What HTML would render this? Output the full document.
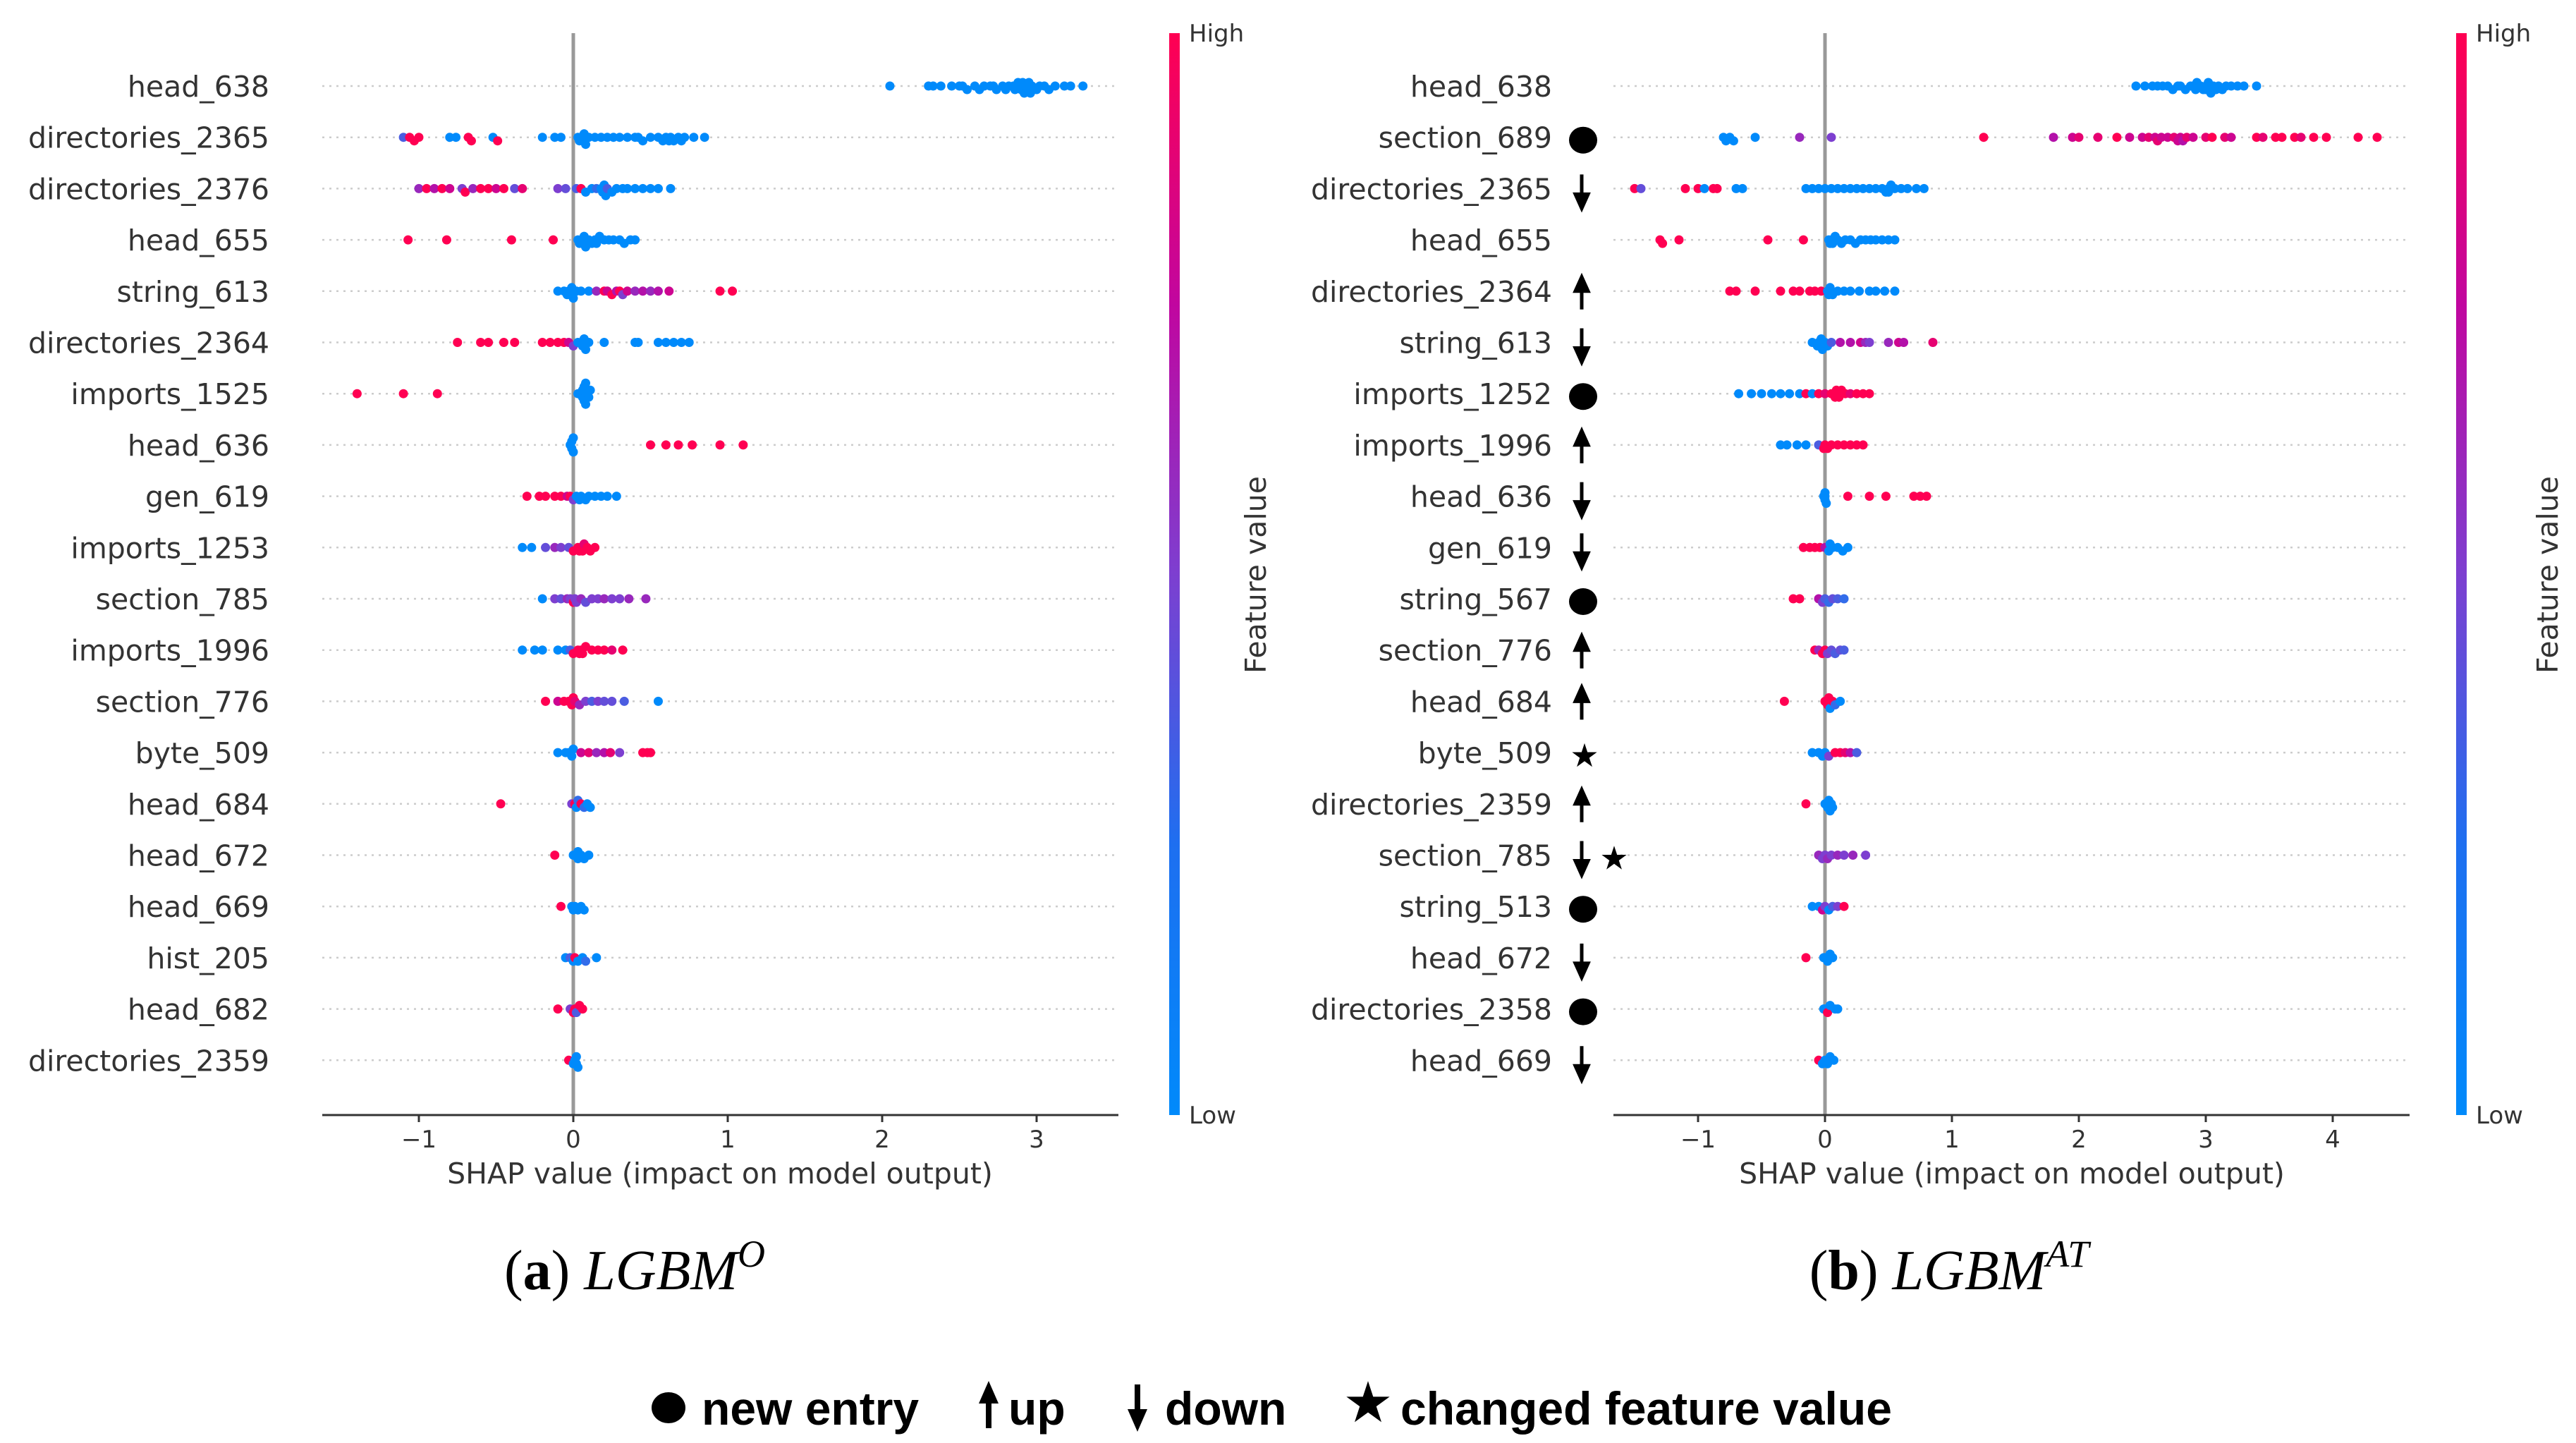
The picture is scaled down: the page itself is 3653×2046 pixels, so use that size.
<!DOCTYPE html>
<html><head><meta charset="utf-8">
<style>
html,body{margin:0;padding:0;background:#fff;}
svg{display:block;}
</style></head>
<body>
<svg id="fig" width="3653" height="2046" viewBox="0 0 3653 2046" xmlns="http://www.w3.org/2000/svg">
<defs>
<linearGradient id="cb" x1="0" y1="1" x2="0" y2="0">
<stop offset="0" stop-color="#008afb"/>
<stop offset="0.25" stop-color="#1e6ff0"/>
<stop offset="0.5" stop-color="#7d3fd0"/>
<stop offset="0.75" stop-color="#c1069f"/>
<stop offset="1" stop-color="#ff0052"/>
</linearGradient>
</defs>
<g id="panelA"></g>
<g id="panelB"></g>
<g id="captions">
<text x="900" y="1828" text-anchor="middle" font-family="Liberation Serif, serif" font-size="80">(<tspan font-weight="bold">a</tspan>)  <tspan font-style="italic">LGBM</tspan><tspan font-style="italic" font-size="54" dy="-32">O</tspan></text>
<text x="2764" y="1828" text-anchor="middle" font-family="Liberation Serif, serif" font-size="80">(<tspan font-weight="bold">b</tspan>)  <tspan font-style="italic">LGBM</tspan><tspan font-style="italic" font-size="54" dy="-32">AT</tspan></text>
</g>
<g id="legend" font-family="Liberation Sans, sans-serif" font-weight="bold" font-size="66">
<ellipse cx="948" cy="1996" rx="24" ry="22" fill="#000"/>
<text x="995" y="2020">new entry</text>
<g><line x1="1402" y1="2025" x2="1402" y2="1982" stroke="#000" stroke-width="8"/><polygon points="1388,1990 1402,1958 1416,1990" fill="#000"/></g>
<text x="1430" y="2020">up</text>
<g><line x1="1613" y1="1963" x2="1613" y2="2005" stroke="#000" stroke-width="8"/><polygon points="1599,1998 1613,2030 1627,1998" fill="#000"/></g>
<text x="1652" y="2020">down</text>
<text x="1940" y="2016" text-anchor="middle" font-size="80" font-weight="normal" font-family="DejaVu Sans, sans-serif">★</text>
<text x="1986" y="2020">changed feature value</text>
</g>
</svg>
<script>
// ---------- data: panel A (LGBM^O) ----------
const featuresA = ["head_638","directories_2365","directories_2376","head_655","string_613","directories_2364","imports_1525","head_636","gen_619","imports_1253","section_785","imports_1996","section_776","byte_509","head_684","head_672","head_669","hist_205","head_682","directories_2359"];
const ticksA = [-1,0,1,2,3];
const pointsA = [
[[2.05,0],[2.3,0],[2.33,0],[2.38,0],[2.45,0],[2.5,0],[2.52,0],[2.55,0],[2.6,0],[2.63,0],[2.66,0],[2.7,0],[2.72,0],[2.74,0],[2.78,0],[2.8,0],[2.82,0],[2.85,0],[2.86,0],[2.88,0],[2.9,0],[2.91,0],[2.92,0],[2.93,0],[2.95,0],[2.97,0],[3.0,0],[3.02,0],[3.05,0],[3.08,0],[3.12,0],[3.18,0],[3.22,0],[3.3,0],[2.9,0],[2.94,0],[2.96,0]],
[[-1.1,0.3],[-1.06,1],[-1.03,1],[-1.0,1],[-0.8,0],[-0.76,0],[-0.68,1],[-0.66,1],[-0.52,0],[-0.49,1],[-0.2,0],[-0.12,0],[-0.08,0],[0.03,0],[0.05,0],[0.06,0],[0.08,0],[0.1,0],[0.14,0],[0.18,0],[0.22,0],[0.26,0],[0.3,0],[0.35,0],[0.4,0],[0.42,0],[0.45,0],[0.5,0],[0.55,0],[0.58,0],[0.6,0],[0.62,0],[0.63,0],[0.65,0],[0.68,0],[0.7,0],[0.72,0],[0.78,0],[0.85,0],[0.04,0],[0.07,0]],
[[-1.0,0.6],[-0.95,1],[-0.9,0.7],[-0.85,1],[-0.8,0.8],[-0.72,0.5],[-0.7,1],[-0.65,0.6],[-0.6,1],[-0.55,1],[-0.5,0.8],[-0.45,1],[-0.38,0.4],[-0.33,0.9],[-0.1,0.5],[-0.05,0.4],[0.02,0.3],[0.05,1],[0.08,0],[0.12,0],[0.15,0.2],[0.18,0],[0.2,0],[0.22,0.3],[0.25,0],[0.28,0],[0.32,0],[0.35,0],[0.4,0],[0.45,0],[0.5,0],[0.55,0],[0.63,0],[0.19,0],[0.21,0]],
[[-1.07,1],[-0.82,1],[-0.4,1],[-0.13,1],[0.03,0],[0.05,0],[0.06,0],[0.08,0],[0.1,0],[0.12,0],[0.14,0],[0.17,0],[0.2,0],[0.23,0],[0.26,0],[0.3,0],[0.33,0],[0.37,0],[0.4,0],[0.04,0],[0.07,0],[0.15,0]],
[[-0.1,0],[-0.06,0],[-0.04,0],[-0.02,0],[0,0],[0.02,0],[0.05,0],[0.1,0],[0.15,0.6],[0.2,1],[0.22,0.8],[0.25,1],[0.28,0.7],[0.3,1],[0.32,0.5],[0.35,0.8],[0.4,0.6],[0.45,0.7],[0.5,0.6],[0.55,0.7],[0.62,0.8],[0.95,1],[1.03,1],[-0.03,0],[-0.01,0]],
[[-0.75,1],[-0.6,1],[-0.55,1],[-0.45,1],[-0.38,1],[-0.2,1],[-0.15,1],[-0.1,1],[-0.06,1],[-0.03,0.8],[0.0,0.5],[0.03,0],[0.06,0],[0.08,0],[0.1,0],[0.2,0],[0.4,0],[0.42,0],[0.55,0],[0.6,0],[0.65,0],[0.7,0],[0.75,0],[0.05,0],[0.07,0]],
[[-1.4,1],[-1.1,1],[-0.88,1],[0.03,0],[0.05,0],[0.06,0],[0.07,0],[0.08,0],[0.09,0],[0.1,0],[0.11,0],[0.06,0],[0.08,0],[0.07,0]],
[[-0.02,0],[-0.01,0],[0,0],[0,0],[-0.01,0],[0.5,1],[0.6,1],[0.68,1],[0.77,1],[0.95,1],[1.1,1]],
[[-0.3,1],[-0.22,1],[-0.18,1],[-0.12,1],[-0.08,1],[-0.04,0.8],[-0.02,1],[0.0,0.5],[0.02,0],[0.05,0],[0.08,0],[0.1,0],[0.14,0],[0.18,0],[0.22,0],[0.28,0],[0.04,0]],
[[-0.33,0],[-0.27,0],[-0.18,0.4],[-0.12,0.6],[-0.08,0.5],[-0.03,0.4],[0.0,1],[0.03,1],[0.05,1],[0.07,0.9],[0.09,1],[0.11,1],[0.14,1],[0.04,1],[0.06,1]],
[[-0.2,0],[-0.12,0.5],[-0.08,0.4],[-0.04,0.6],[-0.02,0.5],[0.0,1],[0.02,0.5],[0.05,0.6],[0.08,0.4],[0.12,0.5],[0.16,0.5],[0.2,0.6],[0.25,0.5],[0.3,0.5],[0.36,0.6],[0.47,0.6],[0.01,0.5]],
[[-0.33,0],[-0.25,0],[-0.2,0],[-0.1,0],[-0.05,0],[-0.02,0.3],[0,1],[0.03,1],[0.05,1],[0.08,1],[0.12,1],[0.16,1],[0.2,1],[0.25,0.9],[0.32,1],[0.04,1],[0.06,1]],
[[-0.18,1],[-0.1,0.8],[-0.06,1],[-0.03,1],[-0.01,1],[0.01,0.9],[0.04,0.6],[0.08,0.5],[0.12,0.3],[0.16,0.5],[0.2,0.4],[0.25,0.4],[0.33,0.3],[0.55,0],[0.0,1]],
[[-0.1,0],[-0.05,0],[-0.03,0],[-0.01,0],[0.0,0],[0.05,0.8],[0.1,0.9],[0.15,0.6],[0.2,0.7],[0.24,0.9],[0.3,0.5],[0.45,1],[0.48,1],[0.5,1]],
[[-0.47,1],[-0.01,0.5],[0.01,1],[0.03,0.2],[0.05,1],[0.07,0.2],[0.09,0],[0.11,0],[0.02,0]],
[[-0.12,1],[0.0,0],[0.02,0],[0.03,0],[0.05,0],[0.07,0],[0.1,0],[0.03,0]],
[[-0.08,1],[-0.01,0],[0.0,0],[0.01,0],[0.03,0],[0.05,0],[0.07,0]],
[[-0.05,0],[-0.02,0.3],[0,0],[0.01,1],[0.03,0],[0.06,0],[0.08,0.2],[0.15,0]],
[[-0.1,1],[-0.02,0.5],[0,1],[0.01,1],[0.02,0.3],[0.04,1],[0.06,1]],
[[-0.03,1],[0.0,0],[0.01,0],[0.02,0],[0.03,0],[0.02,0]]
];
// ---------- data: panel B (LGBM^AT) ----------
const featuresB = ["head_638","section_689","directories_2365","head_655","directories_2364","string_613","imports_1252","imports_1996","head_636","gen_619","string_567","section_776","head_684","byte_509","directories_2359","section_785","string_513","head_672","directories_2358","head_669"];
const marksB = ["","dot","down","","up","down","dot","up","down","down","dot","up","up","star","up","down star","dot","down","dot","down"];
const ticksB = [-1,0,1,2,3,4];
const pointsB = [
[[2.45,0],[2.52,0],[2.58,0],[2.62,0],[2.66,0],[2.7,0],[2.74,0],[2.78,0],[2.8,0],[2.84,0],[2.88,0],[2.9,0],[2.93,0],[2.96,0],[2.98,0],[3.0,0],[3.02,0],[3.04,0],[3.06,0],[3.08,0],[3.1,0],[3.13,0],[3.16,0],[3.2,0],[3.25,0],[3.3,0],[3.4,0],[3.0,0],[2.92,0]],
[[-0.8,0],[-0.78,0],[-0.75,0],[-0.72,0],[-0.55,0],[-0.2,0.6],[0.05,0.5],[1.25,1],[1.8,0.7],[1.95,0.8],[2.0,0.9],[2.15,0.9],[2.3,1],[2.4,0.8],[2.5,0.8],[2.55,0.9],[2.6,0.8],[2.65,0.8],[2.7,0.8],[2.75,0.9],[2.8,0.8],[2.82,0.7],[2.85,0.9],[2.9,0.8],[3.0,0.9],[3.05,1],[3.15,0.9],[3.2,0.8],[3.4,1],[3.45,0.9],[3.55,1],[3.6,1],[3.7,1],[3.75,0.9],[3.85,1],[3.95,1],[4.2,1],[4.35,1],[2.78,0.8],[2.62,0.9]],
[[-1.5,1],[-1.45,0.4],[-1.1,1],[-1.0,1],[-0.95,0],[-0.88,1],[-0.85,1],[-0.7,0],[-0.65,0],[-0.15,0],[-0.1,0],[-0.05,0],[0.0,0],[0.05,0],[0.1,0],[0.15,0],[0.2,0],[0.25,0],[0.3,0],[0.35,0],[0.4,0],[0.45,0],[0.5,0],[0.52,0],[0.55,0],[0.6,0],[0.65,0],[0.72,0],[0.78,0],[0.48,0],[0.5,0]],
[[-1.3,1],[-1.28,1],[-1.15,1],[-0.45,1],[-0.17,1],[0.03,0],[0.05,0],[0.08,0],[0.1,0],[0.13,0],[0.16,0],[0.2,0],[0.24,0],[0.28,0],[0.32,0],[0.36,0],[0.4,0],[0.45,0],[0.5,0],[0.55,0],[0.04,0],[0.06,0]],
[[-0.75,1],[-0.7,1],[-0.55,1],[-0.35,1],[-0.25,1],[-0.2,1],[-0.12,1],[-0.08,1],[-0.03,1],[0.02,0],[0.04,0],[0.06,0],[0.1,0],[0.15,0],[0.2,0],[0.27,0],[0.35,0],[0.4,0],[0.47,0],[0.55,0],[0.05,0],[0.03,0]],
[[-0.1,0],[-0.06,0],[-0.04,0],[-0.02,0],[0,0],[0.02,0],[0.05,0.3],[0.12,0.7],[0.2,0.7],[0.28,0.8],[0.32,0.6],[0.35,0.5],[0.5,0.6],[0.58,0.8],[0.62,0.7],[0.85,0.9],[-0.05,0],[-0.03,0]],
[[-0.68,0],[-0.58,0],[-0.5,0],[-0.42,0],[-0.35,0],[-0.28,0],[-0.2,0],[-0.15,1],[-0.1,0],[-0.05,1],[0.0,0.9],[0.05,1],[0.08,1],[0.1,1],[0.13,1],[0.16,1],[0.2,0.9],[0.25,1],[0.3,1],[0.35,1],[0.09,1],[0.11,1]],
[[-0.35,0],[-0.3,0],[-0.22,0],[-0.15,0],[-0.05,0.3],[-0.01,1],[0.0,1],[0.05,1],[0.1,1],[0.15,1],[0.2,1],[0.25,1],[0.3,1],[0.02,1]],
[[0,0],[0,0],[-0.01,0],[0.01,0],[0,0],[0.18,1],[0.35,1],[0.48,1],[0.7,1],[0.75,1],[0.8,1]],
[[-0.17,1],[-0.12,1],[-0.08,1],[-0.04,1],[0.0,0.7],[0.03,0],[0.06,0],[0.1,0],[0.14,0],[0.18,0],[0.04,0]],
[[-0.25,1],[-0.2,1],[-0.05,0.7],[-0.02,0.5],[0.0,0.3],[0.03,0.2],[0.06,0.4],[0.1,0.3],[0.15,0.2]],
[[-0.08,1],[-0.05,0.6],[-0.02,1],[0,1],[0.02,0.5],[0.05,0.4],[0.08,0.3],[0.12,0.4],[0.15,0.3]],
[[-0.32,1],[0.0,1],[0.02,1],[0.04,0],[0.06,1],[0.08,0.2],[0.12,0],[0.03,1]],
[[-0.1,0],[-0.05,0],[-0.02,0],[0,0],[0.03,0.5],[0.08,1],[0.12,1],[0.16,0.9],[0.2,0.7],[0.25,0.3]],
[[-0.15,1],[0.0,0],[0.02,0],[0.03,0],[0.05,0],[0.06,0],[0.04,0]],
[[-0.05,0.6],[-0.02,0.5],[0,0.5],[0.02,0.6],[0.05,0.5],[0.1,0.6],[0.15,0.5],[0.22,0.6],[0.32,0.5]],
[[-0.1,0],[-0.05,0],[-0.02,0.8],[0.0,0.5],[0.03,0],[0.06,0.3],[0.1,0.5],[0.15,1]],
[[-0.15,1],[-0.01,0],[0.0,0],[0.02,0],[0.04,0],[0.06,0]],
[[-0.01,0],[0.0,0],[0.02,1],[0.04,0],[0.08,0],[0.1,0]],
[[-0.05,1],[-0.02,0],[0,0],[0.02,0],[0.04,0],[0.07,0]]
];

const NS = "http://www.w3.org/2000/svg";
function mk(tag, attrs, parent){
  const e = document.createElementNS(NS, tag);
  for (const k in attrs) e.setAttribute(k, attrs[k]);
  parent.appendChild(e);
  return e;
}
function colorOf(c){
  const stops=[[0,[0,138,251]],[0.5,[125,63,208]],[0.75,[193,6,159]],[1,[255,0,82]]];
  for(let i=1;i<stops.length;i++){
    if(c<=stops[i][0]){
      const a=stops[i-1],b=stops[i],t=(c-a[0])/(b[0]-a[0]);
      return "rgb("+a[1].map((v,j)=>Math.round(v+(b[1][j]-v)*t)).join(",")+")";
    }
  }
  return "rgb(255,0,82)";
}
function drawPanel(g, cfg){
  const X = v => cfg.x0 + v*cfg.unit;
  const Y = i => cfg.yTop + i*cfg.rowH;
  cfg.features.forEach((f,i)=>{
    const gl = mk("line",{x1:cfg.axL,x2:cfg.axR,y1:Y(i),y2:Y(i),stroke:"#cccccc","stroke-width":2.5,"stroke-dasharray":"3,7"},g);
    
    
    const t = mk("text",{x:cfg.labelX,y:Y(i)+15,"text-anchor":"end","font-family":"DejaVu Sans, sans-serif","font-size":41,fill:"#333"},g);
    t.textContent=f;
    
    
  });
  const zl = mk("line",{x1:X(0),x2:X(0),y1:cfg.top,y2:cfg.axY,stroke:"#999","stroke-width":5},g);
  
  
  cfg.points.forEach((row,i)=>{
    const sorted=row.slice().sort((a,b)=>a[0]-b[0]);
    const bins={};
    sorted.forEach(p=>{
      const px=X(p[0]);
      const b=Math.round(px/9);
      const n=bins[b]||0; bins[b]=n+1;
      const k=Math.ceil(n/2)*(n%2?1:-1);
      const off=Math.max(-5,Math.min(5,k))*5;
      const c=mk("circle",{cx:px,cy:Y(i)+off,r:6.5,fill:colorOf(p[1])},g);
      
      
    });
  });
  const ax = mk("line",{x1:cfg.axL,x2:cfg.axR,y1:cfg.axY,y2:cfg.axY,stroke:"#333","stroke-width":3},g);
  
  
  cfg.ticks.forEach(t=>{
    const tk=mk("line",{x1:X(t),x2:X(t),y1:cfg.axY,y2:cfg.axY+10,stroke:"#333","stroke-width":3},g);
    
    
    const tl=mk("text",{x:X(t),y:cfg.axY+46,"text-anchor":"middle","font-family":"DejaVu Sans, sans-serif","font-size":34,fill:"#333"},g);
    tl.textContent = t<0 ? "\u2212"+(-t) : String(t);
    
    
  });
  const xt=mk("text",{x:cfg.xTitleX,y:cfg.axY+97,"text-anchor":"middle","font-family":"DejaVu Sans, sans-serif","font-size":41,fill:"#333"},g);
  xt.textContent="SHAP value (impact on model output)";
  
  
  const cb=mk("rect",{x:cfg.cbX,y:cfg.top,width:15,height:cfg.axY-cfg.top,fill:"url(#cb)"},g);
  
  
  const hi=mk("text",{x:cfg.cbX+28,y:cfg.top+12,"font-family":"DejaVu Sans, sans-serif","font-size":34,fill:"#333"},g);
  hi.textContent="High";
  
  
  const lo=mk("text",{x:cfg.cbX+28,y:cfg.axY+12,"font-family":"DejaVu Sans, sans-serif","font-size":34,fill:"#333"},g);
  lo.textContent="Low";
  
  
  const fv=mk("text",{x:cfg.fvX,y:815,"text-anchor":"middle","font-family":"DejaVu Sans, sans-serif","font-size":41,fill:"#333",transform:"rotate(-90 "+cfg.fvX+" 815)"},g);
  fv.textContent="Feature value";
  
  
  if(cfg.marks){
    cfg.marks.forEach((m,i)=>{
      if(!m) return;
      const parts=m.split(" ");
      parts.forEach((p,j)=>{
        const cx=cfg.markX + j*42, cy=Y(i)+4;
        let e;
        if(p==="dot"){ e=mk("ellipse",{cx:cx+2,cy:cy,rx:20,ry:19,fill:"#000"},g); }
        else if(p==="up"){ e=mk("path",{d:"M"+cx+" "+(cy+22)+" V"+(cy-6)+" M"+(cx-9)+" "+(cy-4)+" L"+cx+" "+(cy-24)+" L"+(cx+9)+" "+(cy-4)+" Z",stroke:"#000","stroke-width":5,fill:"#000"},g); }
        else if(p==="down"){ e=mk("path",{d:"M"+cx+" "+(cy-24)+" V"+(cy+6)+" M"+(cx-9)+" "+(cy+4)+" L"+cx+" "+(cy+24)+" L"+(cx+9)+" "+(cy+4)+" Z",stroke:"#000","stroke-width":5,fill:"#000"},g); }
        else if(p==="star"){ e=mk("text",{x:cx+4,y:cy+16,"text-anchor":"middle","font-family":"DejaVu Sans, sans-serif","font-size":46,fill:"#000"},g); e.textContent="★"; }
        
        
      });
    });
  }
}
drawPanel(document.getElementById("panelA"),{features:featuresA,points:pointsA,ticks:ticksA,x0:813,unit:219,yTop:122,rowH:72.7,top:47,axY:1581,axL:457,axR:1586,labelX:382,xTitleX:1021,cbX:1658,fvX:1795});
drawPanel(document.getElementById("panelB"),{features:featuresB,points:pointsB,ticks:ticksB,marks:marksB,x0:2588,unit:180,yTop:122,rowH:72.7,top:47,axY:1581,axL:2288,axR:3417,labelX:2201,xTitleX:2853,cbX:3483,fvX:3627,markX:2243});
</script>
</body></html>
